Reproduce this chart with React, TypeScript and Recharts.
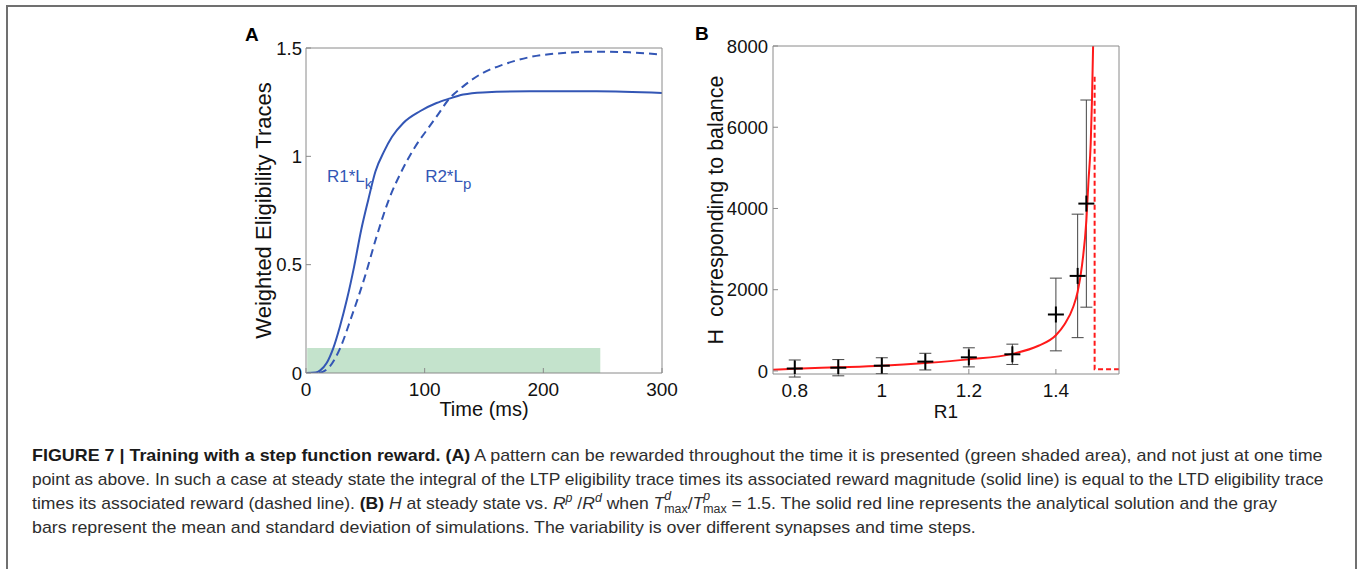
import React, { useLayoutEffect, useRef } from 'react';
import { ComposedChart, Line, Scatter, XAxis, YAxis, ReferenceArea, ErrorBar } from 'recharts';

const FONT = '"Liberation Sans", Arial, Helvetica, sans-serif';
const AXIS_GRAY = '#8a8a8a';
const BLUE = '#3356b5';
const RED = '#ff1a1a';
const TEXT = '#111111';

// ---------- Panel A data ----------
const solidTime = [0, 8, 12, 17.4, 23, 28.6, 34.5, 40.5, 46.5, 52.5, 58.5, 66, 72.5, 82, 96, 110, 120, 132.5, 149, 188.6, 244.7, 300];
const solidTrace = [0, 0.002, 0.012, 0.046, 0.115, 0.215, 0.34, 0.49, 0.66, 0.8, 0.93, 1.025, 1.09, 1.154, 1.208, 1.246, 1.265, 1.285, 1.295, 1.3, 1.3, 1.292];
const dashedTime = [0, 10, 14, 20, 28.7, 38.4, 49.7, 59.5, 70.5, 80, 91.5, 103, 111.5, 119.8, 132.5, 149, 166, 188.6, 216.7, 244.7, 272.8, 300];
const dashedTrace = [0, 0, 0.005, 0.03, 0.114, 0.26, 0.446, 0.63, 0.81, 0.925, 1.04, 1.13, 1.195, 1.26, 1.323, 1.385, 1.423, 1.458, 1.477, 1.483, 1.48, 1.469];
const rewardWindow = [1, 248];
const rewardHeight = 0.115;
const timeTicks = [0, 100, 200, 300];
const traceTicks = [0, 0.5, 1, 1.5];
const traceLabelMain = ['R1*L', 'R2*L'];
const traceLabelSub = ['k', 'p'];
const traceLabelTime = [17.7, 100.4];
const traceLabelValue = [0.88, 0.88];

// ---------- Panel B data ----------
const curveR1 = [0.75, 0.8, 0.9, 1.0, 1.1, 1.2, 1.3, 1.36, 1.4, 1.42, 1.44, 1.45, 1.46, 1.47, 1.475, 1.48, 1.483, 1.4855];
const curveH = [30, 55, 90, 130, 195, 285, 420, 620, 880, 1150, 1580, 1950, 2600, 3700, 4700, 5600, 6700, 8000];
const cutoffR1 = [1.489, 1.489, 1.545];
const cutoffH = [7245, 42, 42];
const simR1 = [0.8, 0.9, 1.0, 1.1, 1.2, 1.3, 1.4, 1.45, 1.47];
const simMean = [60, 80, 130, 230, 335, 410, 1390, 2340, 4120];
const simStd = [210, 200, 195, 205, 235, 250, 895, 1520, 2550];
const r1Ticks = [0.8, 1, 1.2, 1.4];
const hTicks = [0, 2000, 4000, 6000, 8000];

const solidData = solidTime.map((x, i) => ({ x, y: solidTrace[i] }));
const dashedData = dashedTime.map((x, i) => ({ x, y: dashedTrace[i] }));
const labelData = traceLabelMain.map((m, i) => ({ x: traceLabelTime[i], y: traceLabelValue[i], main: m, sub: traceLabelSub[i] }));
const curveData = curveR1.map((x, i) => ({ x, y: curveH[i] }));
const cutoffData = cutoffR1.map((x, i) => ({ x, y: cutoffH[i] }));
const simData = simR1.map((x, i) => ({ x, y: simMean[i], sd: simStd[i] }));

// ---------- Caption layout ----------
const captionStartX = 32;
const captionLineEnds = [1322, 1324, 1277, 976];
const captionLineTops = [444, 468, 492, 516];

const PlusMarker = (props: any) => {
  const { cx, cy } = props;
  if (cx == null || cy == null) return null;
  return (
    <g>
      <line x1={cx - 8} x2={cx + 8} y1={cy} y2={cy} stroke="#000" strokeWidth={2} />
      <line x1={cx} x2={cx} y1={cy - 8} y2={cy + 8} stroke="#000" strokeWidth={2} />
    </g>
  );
};

const TraceLabel = (props: any) => {
  const { cx, cy, payload } = props;
  if (cx == null || cy == null) return null;
  return (
    <text x={cx} y={cy} fill={BLUE} fontSize={17}>
      <tspan>{payload.main}</tspan>
      <tspan dy={7} fontSize={15}>{payload.sub}</tspan>
    </text>
  );
};

const xTickStyle = { fill: TEXT, fontSize: 19 };
const yTickStyle = { fill: TEXT, fontSize: 18.5 };

const SupSub = ({ sup, sub }: { sup: string; sub: string }) => (
  <span style={{ display: 'inline-block', position: 'relative', fontSize: 12, lineHeight: 1 }}>
    <span style={{ position: 'absolute', left: 0, top: -9, fontStyle: 'italic' }}>{sup}</span>
    <span style={{ position: 'relative', top: 4 }}>{sub}</span>
  </span>
);

const Sup = ({ c }: { c: string }) => (
  <span style={{ fontSize: 12, position: 'relative', top: -7, fontStyle: 'italic' }}>{c}</span>
);

const Caption = () => {
  const refs = useRef<(HTMLDivElement | null)[]>([]);
  useLayoutEffect(() => {
    refs.current.forEach((el, i) => {
      if (!el) return;
      const w = el.offsetWidth;
      const target = captionLineEnds[i] - captionStartX;
      if (w > 0) el.style.transform = `scaleX(${target / w})`;
    });
  }, []);
  const lineStyle = (i: number): React.CSSProperties => ({
    position: 'absolute',
    left: captionStartX,
    top: captionLineTops[i],
    display: 'inline-block',
    whiteSpace: 'nowrap',
    fontSize: 17,
    lineHeight: '24px',
    color: '#2e2e2e',
    transformOrigin: '0 0',
  });
  const lines = [
    <>
      <b style={{ color: '#1a1a1a' }}>FIGURE 7 | Training with a step function reward. (A)</b> A pattern can be rewarded throughout the time it is presented (green shaded area), and not just at one time
    </>,
    <>point as above. In such a case at steady state the integral of the LTP eligibility trace times its associated reward magnitude (solid line) is equal to the LTD eligibility trace</>,
    <>
      times its associated reward (dashed line). <b style={{ color: '#1a1a1a' }}>(B)</b> <i>H</i> at steady state vs. <i>R</i>
      <Sup c="p" /> /<i>R</i>
      <Sup c="d" /> when <i>T</i>
      <SupSub sup="d" sub="max" />/<i>T</i>
      <SupSub sup="p" sub="max" /> = 1.5. The solid red line represents the analytical solution and the gray
    </>,
    <>bars represent the mean and standard deviation of simulations. The variability is over different synapses and time steps.</>,
  ];
  return (
    <>
      {lines.map((content, i) => (
        <div key={i} ref={(el) => { refs.current[i] = el; }} style={lineStyle(i)}>
          {content}
        </div>
      ))}
    </>
  );
};

export default function App() {
  return (
    <div style={{ position: 'absolute', left: 0, top: 0, width: 1360, height: 569, background: '#fff', overflow: 'hidden', fontFamily: FONT }}>
      <div style={{ position: 'absolute', left: 6, top: 5, width: 1351, height: 620, border: '2px solid #707070', boxSizing: 'border-box' }} />

      <svg style={{ position: 'absolute', left: 0, top: 0 }} width={1360} height={60}>
        <text x={245} y={41} fontWeight="bold" fontSize={19} fill="#000">A</text>
        <text x={695} y={40} fontWeight="bold" fontSize={19} fill="#000">B</text>
      </svg>

      {/* Panel A */}
      <div style={{ position: 'absolute', left: 220, top: 20 }}>
        <ComposedChart width={460} height={420} margin={{ top: 18, right: 8, bottom: 7, left: 0 }}>
          <XAxis dataKey="x" type="number" domain={[0, 300]} ticks={timeTicks} allowDataOverflow height={60}
            tickSize={-5} tickMargin={15} stroke={AXIS_GRAY} tick={xTickStyle}
            label={{ value: 'Time (ms)', position: 'insideBottom', offset: 17, fill: TEXT, fontSize: 20 }} />
          <XAxis xAxisId="top" orientation="top" dataKey="x" type="number" domain={[0, 300]} ticks={timeTicks}
            allowDataOverflow height={10} tickSize={-5} tick={false} stroke={AXIS_GRAY} />
          <YAxis dataKey="y" type="number" domain={[0, 1.5]} ticks={traceTicks} allowDataOverflow width={86}
            tickSize={-5} tickMargin={9} stroke={AXIS_GRAY} tick={yTickStyle}
            label={{ value: 'Weighted Eligibility Traces', angle: -90, position: 'center', fill: TEXT, fontSize: 22 }} />
          <YAxis yAxisId="right" orientation="right" dataKey="y" type="number" domain={[0, 1.5]} ticks={traceTicks}
            allowDataOverflow width={10} tickSize={-5} tick={false} stroke={AXIS_GRAY} />
          <ReferenceArea x1={rewardWindow[0]} x2={rewardWindow[1]} y1={0} y2={rewardHeight} fill="#c4e3cc" fillOpacity={1} stroke="none" />
          <Line data={dashedData} dataKey="y" type="monotone" stroke={BLUE} strokeWidth={2} strokeDasharray="8 5" dot={false} activeDot={false} isAnimationActive={false} />
          <Line data={solidData} dataKey="y" type="monotone" stroke={BLUE} strokeWidth={2} dot={false} activeDot={false} isAnimationActive={false} />
          <Scatter data={labelData} dataKey="y" shape={TraceLabel} isAnimationActive={false} />
        </ComposedChart>
      </div>

      {/* Panel B */}
      <div style={{ position: 'absolute', left: 657, top: 18 }}>
        <ComposedChart width={483} height={422} margin={{ top: 18, right: 11, bottom: 6, left: 0 }}>
          <XAxis dataKey="x" type="number" domain={[0.75, 1.545]} ticks={r1Ticks} allowDataOverflow height={60}
            tickSize={-5} tickMargin={15} stroke={AXIS_GRAY} tick={xTickStyle}
            label={{ value: 'R1', position: 'insideBottom', offset: 16, fill: TEXT, fontSize: 19 }} />
          <XAxis xAxisId="top" orientation="top" dataKey="x" type="number" domain={[0.75, 1.545]} ticks={r1Ticks}
            allowDataOverflow height={10} tickSize={-5} tick={false} stroke={AXIS_GRAY} />
          <YAxis dataKey="y" type="number" domain={[-75, 8000]} ticks={hTicks} allowDataOverflow width={116}
            tickSize={-5} tickMargin={10} stroke={AXIS_GRAY} tick={yTickStyle}
            label={{ value: 'H\u00A0 corresponding to balance', angle: -90, position: 'center', fill: TEXT, fontSize: 21.5 }} />
          <YAxis yAxisId="right" orientation="right" dataKey="y" type="number" domain={[-75, 8000]} ticks={hTicks}
            allowDataOverflow width={10} tickSize={-5} tick={false} stroke={AXIS_GRAY} />
          <Scatter data={simData} dataKey="y" shape={PlusMarker} isAnimationActive={false}>
            <ErrorBar dataKey="sd" direction="y" width={6} stroke="#444" strokeWidth={1} />
          </Scatter>
          <Line data={cutoffData} dataKey="y" type="linear" stroke={RED} strokeWidth={2} strokeDasharray="5 3" dot={false} activeDot={false} isAnimationActive={false} />
          <Line data={curveData} dataKey="y" type="monotone" stroke={RED} strokeWidth={2} dot={false} activeDot={false} isAnimationActive={false} />
        </ComposedChart>
      </div>

      <Caption />
    </div>
  );
}
